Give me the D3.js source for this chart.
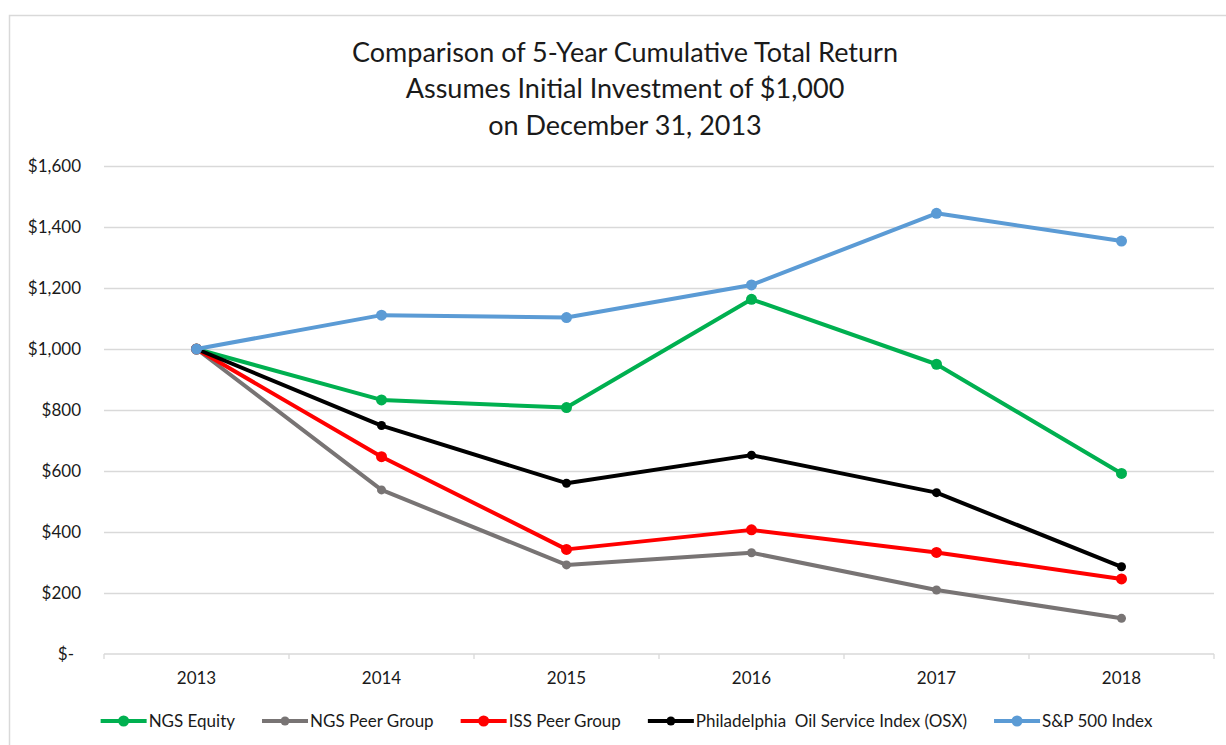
<!DOCTYPE html>
<html lang="en">
<head>
<meta charset="UTF-8">
<title>5-Year Cumulative Total Return</title>
<script src="https://d3js.org/d3.v7.min.js"></script>
<style>
    * { margin: 0; padding: 0; box-sizing: border-box; }
    body { background: #fff; font-family: Lato, "Open Sans", sans-serif; }
    svg text { fill: #1a1a1a; }
</style>
</head>
<body>
<div id="chart"></div>
<script>
    // data
    const years = ["2013", "2014", "2015", "2016", "2017", "2018"];
    const ngsEquity    = [1000, 833, 808, 1163, 950, 592];
    const ngsPeer      = [1000, 538, 292, 332, 210, 117];
    const issPeer      = [1000, 647, 343, 407, 333, 246];
    const osx          = [1000, 749, 560, 652, 529, 286];
    const sp500        = [1000, 1111, 1103, 1210, 1445, 1354];
    const yTicks = [0, 200, 400, 600, 800, 1000, 1200, 1400, 1600];
    const titleLines = [
        "Comparison of 5-Year Cumulative Total Return",
        "Assumes Initial Investment of $1,000",
        "on December 31, 2013"
    ];

    const series = [
        { name: "NGS Equity", values: ngsEquity, color: "#00b050", r: 5.5 },
        { name: "NGS Peer Group", values: ngsPeer, color: "#787474", r: 4.5 },
        { name: "ISS Peer Group", values: issPeer, color: "#ff0000", r: 5.5 },
        { name: "Philadelphia  Oil Service Index (OSX)", values: osx, color: "#000000", r: 4.5 },
        { name: "S&P 500 Index", values: sp500, color: "#5b9bd5", r: 5.5 }
    ];

    const W = 1226, H = 745;
    const plotL = 104, plotR = 1214, plotT = 166, plotB = 654;
    const smallFont = "17px";

    const svg = d3.select("#chart").append("svg")
        .attr("width", W)
        .attr("height", H);

    // outer chart frame (only top/left edges are visible)
    svg.append("rect")
        .attr("x", 9.5).attr("y", 15.5)
        .attr("width", 1250).attr("height", 760)
        .attr("fill", "none")
        .attr("stroke", "#d9d9d9")
        .attr("stroke-width", 1.5);

    const x = d3.scaleBand().domain(years).range([plotL, plotR]).padding(0);
    const cx = d => x(d) + x.bandwidth() / 2;
    const y = d3.scaleLinear().domain([0, 1600]).range([plotB, plotT]);

    // title
    svg.append("g").selectAll("text")
        .data(titleLines)
        .join("text")
        .attr("x", 625)
        .attr("y", (d, i) => 61.5 + i * 36.5)
        .attr("text-anchor", "middle")
        .style("font-size", "27px")
        .text(d => d);

    // gridlines
    svg.append("g")
        .attr("transform", `translate(${plotL},0)`)
        .call(d3.axisLeft(y).tickValues(yTicks.filter(d => d > 0)).tickSize(-(plotR - plotL)).tickFormat(""))
        .call(g => g.select(".domain").remove())
        .selectAll("line")
        .attr("stroke", "#d9d9d9")
        .attr("stroke-width", 1.3);

    // y labels
    svg.append("g").selectAll("text")
        .data(yTicks)
        .join("text")
        .attr("x", d => d === 0 ? 74 : 81)
        .attr("y", d => y(d))
        .attr("dy", "0.35em")
        .attr("text-anchor", "end")
        .style("font-size", smallFont)
        .text(d => d === 0 ? "$-" : d3.format("$,")(d));

    // x axis
    const xAxis = svg.append("g").attr("transform", `translate(0,${plotB})`);
    xAxis.append("line")
        .attr("x1", plotL).attr("x2", plotR)
        .attr("stroke", "#d9d9d9").attr("stroke-width", 1.3);
    xAxis.selectAll(".tk")
        .data(years.map(d => x(d)).concat([plotR]))
        .join("line")
        .attr("class", "tk")
        .attr("x1", d => d).attr("x2", d => d)
        .attr("y1", 0).attr("y2", 5)
        .attr("stroke", "#d9d9d9").attr("stroke-width", 1.3);
    xAxis.selectAll("text")
        .data(years)
        .join("text")
        .attr("x", d => cx(d))
        .attr("y", 30)
        .attr("text-anchor", "middle")
        .style("font-size", smallFont)
        .text(d => d);

    // lines + markers
    const line = d3.line()
        .x((d, i) => cx(years[i]))
        .y(d => y(d));

    const sg = svg.append("g").selectAll("g")
        .data(series)
        .join("g");

    sg.append("path")
        .attr("d", d => line(d.values))
        .attr("fill", "none")
        .attr("stroke", d => d.color)
        .attr("stroke-width", 4)
        .attr("stroke-linejoin", "round");

    sg.selectAll("circle")
        .data(d => d.values.map(v => ({ v, s: d })))
        .join("circle")
        .attr("cx", (d, i) => cx(years[i]))
        .attr("cy", d => y(d.v))
        .attr("r", d => d.s.r)
        .attr("fill", d => d.s.color);

    // legend
    const legend = svg.append("g");
    const swatch = 46, gapText = 2, gapItem = 27;
    const items = legend.selectAll("g")
        .data(series)
        .join("g");
    items.append("line")
        .attr("x1", 0).attr("x2", swatch)
        .attr("stroke", d => d.color)
        .attr("stroke-width", 4);
    items.append("circle")
        .attr("cx", swatch / 2)
        .attr("r", d => d.r)
        .attr("fill", d => d.color);
    items.append("text")
        .attr("x", swatch + gapText)
        .attr("dy", "0.35em")
        .style("font-size", smallFont)
        .style("white-space", "pre")
        .text(d => d.name);

    let pos = 0;
    const offsets = [];
    items.each(function () {
        offsets.push(pos);
        const w = this.querySelector("text").getComputedTextLength();
        pos += swatch + gapText + w + gapItem;
    });
    const total = pos - gapItem;
    const start = 626.5 - total / 2;
    items.attr("transform", (d, i) => `translate(${start + offsets[i]},721)`);
</script>
</body>
</html>
